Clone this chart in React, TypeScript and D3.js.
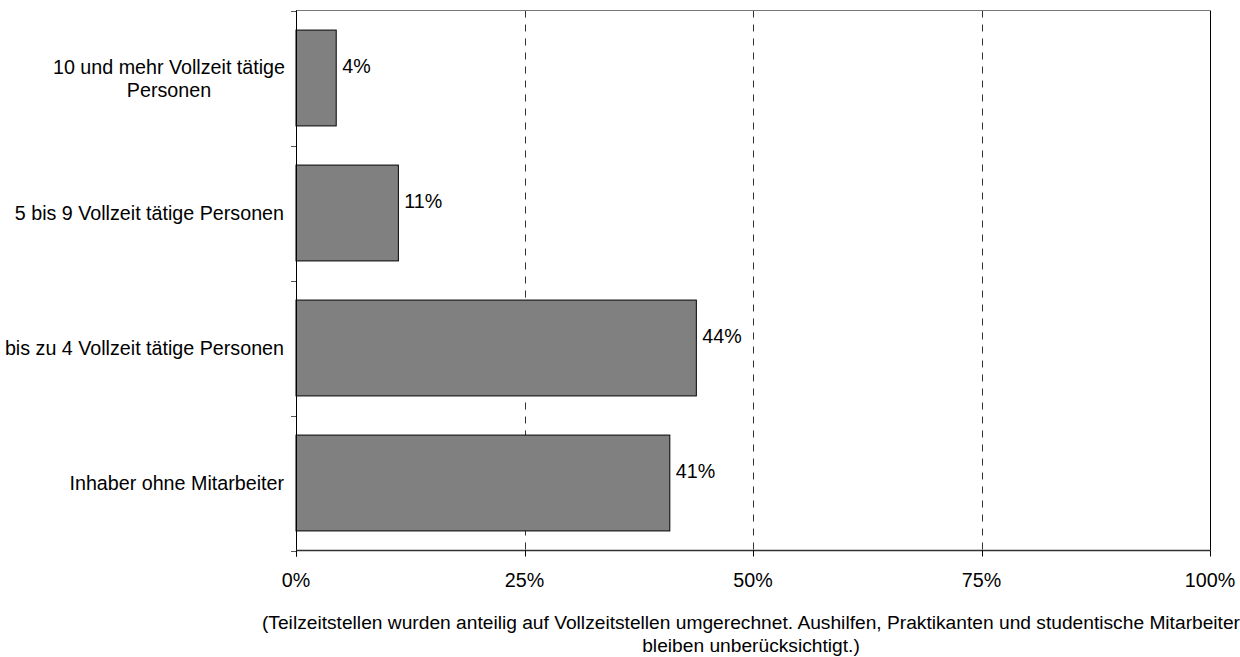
import React from "react";
import * as d3 from "d3";

const categories: string[][] = [
  ["10 und mehr Vollzeit tätige", "Personen"],
  ["5 bis 9 Vollzeit tätige Personen"],
  ["bis zu 4 Vollzeit tätige Personen"],
  ["Inhaber ohne Mitarbeiter"],
];
const values: number[] = [0.044, 0.112, 0.438, 0.409];
const valueLabels: string[] = ["4%", "11%", "44%", "41%"];
const xTicks: number[] = [0, 0.25, 0.5, 0.75, 1];
const footnote: string[] = [
  "(Teilzeitstellen wurden anteilig auf Vollzeitstellen umgerechnet. Aushilfen, Praktikanten und studentische Mitarbeiter",
  "bleiben unberücksichtigt.)",
];

const W = 1240;
const H = 657;
const left = 296;
const right = 1210;
const top = 10.5;
const bottom = 550.5;
const FONT = "Arial, 'Liberation Sans', sans-serif";
const FS = 19.7;
const FS_NOTE = 19.2;

export default function App() {
  const x = d3.scaleLinear().domain([0, 1]).range([left, right]);
  const y = d3
    .scaleBand<number>()
    .domain(d3.range(categories.length))
    .range([top, bottom])
    .paddingInner(0.29)
    .paddingOuter(0.145);
  const step = y.step();
  const catBounds = d3.range(categories.length + 1).map((i) => top + i * step);

  return (
    <svg
      width={W}
      height={H}
      style={{ position: "absolute", left: 0, top: 0, background: "#fff" }}
      fontFamily={FONT}
    >
      <rect x={0} y={0} width={W} height={H} fill="#fff" />
      {xTicks.slice(1, -1).map((t) => (
        <line
          key={t}
          x1={Math.round(x(t)) + 0.5}
          x2={Math.round(x(t)) + 0.5}
          y1={top}
          y2={bottom}
          stroke="#333"
          strokeWidth={1}
          strokeDasharray="7,7"
        />
      ))}
      <line x1={left} x2={right} y1={top} y2={top} stroke="#777" strokeWidth={1} />
      <line x1={right + 0.5} x2={right + 0.5} y1={top} y2={bottom} stroke="#000" strokeWidth={1} />
      {values.map((v, i) => (
        <rect
          key={i}
          x={x(0)}
          y={y(i)!}
          width={x(v) - x(0)}
          height={y.bandwidth()}
          fill="#808080"
          stroke="#000"
          strokeWidth={1}
        />
      ))}
      {values.map((v, i) => (
        <text
          key={i}
          x={x(v) + 6}
          y={y(i)! + y.bandwidth() / 2 - 12}
          dominantBaseline="central"
          fontSize={FS}
          fill="#000"
        >
          {valueLabels[i]}
        </text>
      ))}
      <line x1={left + 0.5} x2={left + 0.5} y1={top} y2={bottom + 6} stroke="#000" strokeWidth={1} />
      {catBounds.map((b, i) => (
        <line key={i} x1={left - 5} x2={left} y1={Math.round(b) + 0.5} y2={Math.round(b) + 0.5} stroke="#555" strokeWidth={1} />
      ))}
      {categories.map((lines, i) => {
        const cy = y(i)! + y.bandwidth() / 2;
        const lh = 23;
        const multi = lines.length > 1;
        return (
          <text key={i} fontSize={FS} fill="#000" textAnchor={multi ? "middle" : "end"}>
            {lines.map((l, j) => (
              <tspan
                key={j}
                x={multi ? 169 : 284}
                y={cy + (j - (lines.length - 1) / 2) * lh}
                dominantBaseline="central"
              >
                {l}
              </tspan>
            ))}
          </text>
        );
      })}
      <line x1={left} x2={right} y1={bottom} y2={bottom} stroke="#333" strokeWidth={1.5} />
      {xTicks.map((t) => (
        <line key={t} x1={Math.round(x(t)) + 0.5} x2={Math.round(x(t)) + 0.5} y1={bottom} y2={bottom + 6} stroke="#000" strokeWidth={1} />
      ))}
      {xTicks.map((t) => (
        <text key={t} x={x(t)} y={580} textAnchor="middle" dominantBaseline="central" fontSize={FS} fill="#000">
          {`${Math.round(t * 100)}%`}
        </text>
      ))}
      {footnote.map((l, j) => (
        <text key={j} x={751} y={622 + j * 23} textAnchor="middle" dominantBaseline="central" fontSize={FS_NOTE} fill="#000">
          {l}
        </text>
      ))}
    </svg>
  );
}
